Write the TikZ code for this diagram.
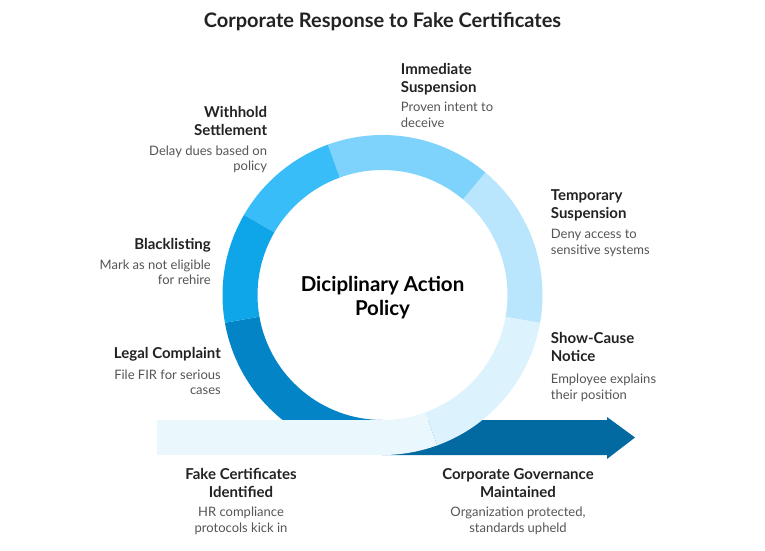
\documentclass[tikz,border=0pt]{standalone}
\usepackage{fontspec}
\setmainfont{Lato}
\definecolor{sA}{HTML}{EAF8FE}
\definecolor{sB}{HTML}{DCF3FD}
\definecolor{sC}{HTML}{BAE6FD}
\definecolor{sD}{HTML}{7DD3FC}
\definecolor{sE}{HTML}{38BDF8}
\definecolor{sF}{HTML}{0EA5E9}
\definecolor{sG}{HTML}{0284C7}
\definecolor{sH}{HTML}{0369A1}
\definecolor{ink}{HTML}{222222}
\definecolor{grey}{HTML}{555555}
\tikzset{
  ttl/.style={font=\fontsize{15}{18}\selectfont\bfseries, text=ink, inner sep=0pt},
  dsc/.style={font=\fontsize{13}{15.5}\selectfont, text=grey, inner sep=0pt},
  ctr/.style={font=\fontsize{20.5}{24}\selectfont\bfseries, text=black, inner sep=0pt, align=center},
  head/.style={font=\fontsize{20}{24}\selectfont\bfseries, text=ink, inner sep=0pt}
}
\newcommand\ringseg[3]{\fill[#3] (#1:160) arc[start angle=#1,end angle=#2,radius=160] -- (#2:125) arc[start angle=#2,end angle=#1,radius=125] -- cycle;}
\begin{document}
\begin{tikzpicture}[x=1pt,y=1pt]
\useasboundingbox (0,0) rectangle (765,550);
\fill[white] (0,0) rectangle (765,550);
\node[head, anchor=base] (title) at (382.5,522.5) {Corporate Response to Fake Certificates};
% ring parts below the bands
\begin{scope}[shift={(382.5,255)}]
  \ringseg{190}{270}{sG}
\end{scope}
% exit arrow
\fill[sH] (382.5,95) -- (607,95) -- (607,91) -- (635,112.5) -- (607,133) -- (607,130) -- (382.5,130) -- cycle;
\begin{scope}[shift={(382.5,255)}]
  \ringseg{-70}{-10}{sB}
  \ringseg{-10}{50}{sC}
  \ringseg{50}{110}{sD}
  \ringseg{110}{150}{sE}
  \ringseg{150}{190}{sF}
  \ringseg{-90}{-70}{sA}
\end{scope}
\fill[sA] (157,95) rectangle (382.6,130);
\node[ctr] (policy) at (382.5,252) {Diciplinary Action\\Policy};
% labels
\node[ttl, anchor=north west, align=left] (immT) at (400.7,487.3) {Immediate\\Suspension};
\node[dsc, anchor=north west, align=left] (immD) at (400.7,447.7) {Proven intent to\\deceive};
\node[ttl, anchor=north east, align=right] (witT) at (267.3,443.5) {Withhold\\Settlement};
\node[dsc, anchor=north east, align=right] (witD) at (267.3,404.3) {Delay dues based on\\policy};
\node[ttl, anchor=north west, align=left] (tmpT) at (550.7,360.7) {Temporary\\Suspension};
\node[dsc, anchor=north west, align=left] (tmpD) at (550.7,320.7) {Deny access to\\sensitive systems};
\node[ttl, anchor=north east, align=right] (blkT) at (211,312.3) {Blacklisting};
\node[dsc, anchor=north east, align=right] (blkD) at (211,290.7) {Mark as not eligible\\for rehire};
\node[ttl, anchor=north west, align=left] (scnT) at (550.7,217.7) {Show-Cause\\Notice};
\node[dsc, anchor=north west, align=left] (scnD) at (550.7,176) {Employee explains\\their position};
\node[ttl, anchor=north east, align=right] (legT) at (221,202.7) {Legal Complaint};
\node[dsc, anchor=north east, align=right] (legD) at (221,180.7) {File FIR for serious\\cases};
\node[ttl, anchor=north, align=center] (fakT) at (241,82) {Fake Certificates\\Identified};
\node[dsc, anchor=north, align=center] (fakD) at (241,43) {HR compliance\\protocols kick in};
\node[ttl, anchor=north, align=center] (govT) at (518,82) {Corporate Governance\\Maintained};
\node[dsc, anchor=north, align=center] (govD) at (518,43) {Organization protected,\\standards upheld};
\end{tikzpicture}
\end{document}
